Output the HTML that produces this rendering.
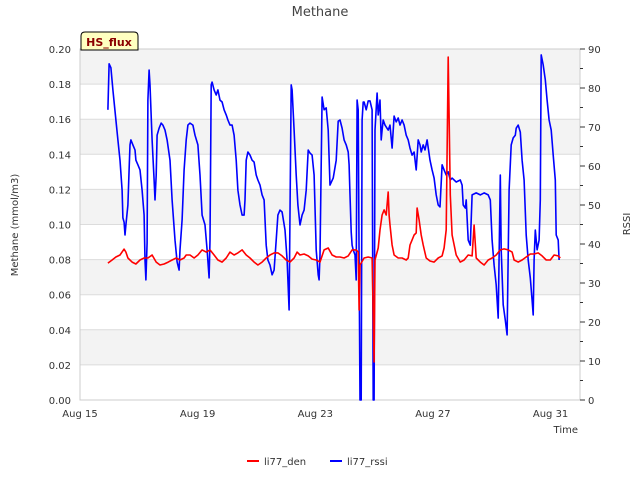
<!DOCTYPE html>
<html><head><meta charset="utf-8"><style>
body{margin:0;background:#fff;font-family:"Liberation Sans",sans-serif}
svg text{font-family:"DejaVu Sans","Liberation Sans",sans-serif}
</style></head><body>
<svg id="chart" width="640" height="480" xmlns="http://www.w3.org/2000/svg"></svg>
<script>
const xTickLabels=["Aug 15","Aug 19","Aug 23","Aug 27","Aug 31"];
const xTickDays=[0,4,8,12,16];
const yLeftTicks=[0,0.02,0.04,0.06,0.08,0.10,0.12,0.14,0.16,0.18,0.20];
const yRightTicks=[0,10,20,30,40,50,60,70,80,90];
const denDays=[0.95,1.09,1.22,1.36,1.50,1.56,1.63,1.77,1.90,2.04,2.18,2.31,2.45,2.59,2.72,2.86,3.0,3.13,3.27,3.40,3.54,3.61,3.74,3.88,4.01,4.15,4.29,4.42,4.56,4.69,4.83,4.97,5.10,5.24,5.37,5.51,5.65,5.78,5.92,6.05,6.19,6.33,6.46,6.60,6.73,6.87,7.01,7.14,7.28,7.38,7.48,7.62,7.76,7.89,8.03,8.16,8.30,8.44,8.57,8.71,8.84,8.98,9.12,9.25,9.39,9.46,9.49,9.52,9.66,9.80,9.93,10.0,10.03,10.14,10.20,10.27,10.34,10.41,10.48,10.51,10.54,10.61,10.68,10.82,10.95,11.09,11.16,11.22,11.29,11.36,11.43,11.46,11.53,11.60,11.67,11.77,11.90,12.04,12.18,12.31,12.38,12.45,12.52,12.59,12.65,12.79,12.93,13.06,13.20,13.33,13.40,13.47,13.61,13.74,13.88,14.01,14.15,14.29,14.42,14.56,14.69,14.76,14.90,15.03,15.17,15.31,15.44,15.58,15.71,15.85,15.99,16.12,16.26,16.33];
const denValues=[0.078,0.0798,0.0815,0.0826,0.086,0.0843,0.0809,0.0786,0.0775,0.0798,0.0809,0.0809,0.0826,0.0786,0.0769,0.0775,0.0786,0.0798,0.0809,0.0798,0.0809,0.0826,0.0826,0.0809,0.0826,0.0855,0.0843,0.0855,0.0826,0.0798,0.0786,0.0809,0.0843,0.0826,0.0838,0.0855,0.0826,0.0809,0.0786,0.0769,0.0786,0.0809,0.0826,0.0838,0.0838,0.0821,0.0798,0.0786,0.0809,0.0843,0.0826,0.0832,0.0821,0.0803,0.0798,0.0786,0.0855,0.0866,0.0826,0.0815,0.0815,0.0809,0.0821,0.0855,0.0855,0.0843,0.0513,0.0769,0.0809,0.0815,0.0809,0.0217,0.0798,0.0866,0.0969,0.1054,0.1083,0.1054,0.1185,0.1054,0.0997,0.0883,0.0826,0.0809,0.0809,0.0798,0.0809,0.0883,0.0912,0.094,0.0952,0.1094,0.1026,0.094,0.0883,0.0809,0.0792,0.0786,0.0809,0.0821,0.0866,0.0969,0.1954,0.1168,0.094,0.0826,0.0786,0.0798,0.0826,0.0821,0.0997,0.0809,0.0786,0.0769,0.0798,0.0809,0.0826,0.0855,0.0861,0.0855,0.0843,0.0798,0.0786,0.0798,0.0815,0.0832,0.0832,0.0838,0.0821,0.0798,0.0798,0.0826,0.0821,0.0809];
const rssiDays=[0.95,0.99,1.05,1.12,1.22,1.29,1.36,1.43,1.46,1.50,1.53,1.56,1.63,1.67,1.70,1.73,1.80,1.87,1.90,1.97,2.04,2.11,2.18,2.21,2.24,2.28,2.31,2.35,2.38,2.45,2.52,2.55,2.59,2.62,2.69,2.76,2.82,2.89,2.96,3.06,3.13,3.23,3.30,3.37,3.40,3.47,3.54,3.61,3.67,3.74,3.84,3.91,4.01,4.08,4.15,4.25,4.32,4.39,4.42,4.46,4.49,4.56,4.63,4.69,4.76,4.83,4.90,4.97,5.03,5.10,5.17,5.24,5.31,5.37,5.44,5.51,5.58,5.61,5.65,5.71,5.78,5.85,5.92,5.99,6.05,6.12,6.19,6.26,6.33,6.39,6.46,6.53,6.60,6.67,6.73,6.80,6.87,6.97,7.04,7.11,7.18,7.21,7.28,7.35,7.41,7.48,7.55,7.62,7.69,7.76,7.82,7.89,7.96,8.03,8.10,8.13,8.16,8.23,8.30,8.37,8.44,8.50,8.61,8.71,8.78,8.84,8.91,8.98,9.05,9.12,9.15,9.18,9.22,9.25,9.29,9.35,9.39,9.42,9.46,9.49,9.52,9.56,9.59,9.63,9.66,9.73,9.80,9.86,9.93,9.97,10.0,10.03,10.10,10.14,10.20,10.24,10.27,10.31,10.37,10.48,10.54,10.61,10.68,10.75,10.82,10.88,10.95,11.02,11.09,11.16,11.22,11.29,11.36,11.43,11.50,11.56,11.60,11.67,11.73,11.80,11.90,11.97,12.04,12.11,12.18,12.24,12.31,12.38,12.45,12.52,12.59,12.65,12.79,12.93,12.99,13.03,13.10,13.13,13.20,13.27,13.33,13.47,13.61,13.74,13.88,13.95,14.01,14.08,14.15,14.22,14.29,14.32,14.39,14.46,14.52,14.59,14.66,14.73,14.80,14.83,14.90,14.97,15.03,15.10,15.17,15.24,15.31,15.37,15.41,15.44,15.48,15.54,15.61,15.65,15.68,15.75,15.82,15.88,15.95,16.02,16.09,16.16,16.19,16.26,16.29];
const rssiValues=[74.4,86.2,85.2,79.5,71.8,66.7,61.5,53.8,46.7,45.6,42.3,44.9,50.0,59.0,65.4,66.7,65.4,64.1,61.5,60.3,59.0,53.8,47.4,35.9,30.8,40.3,76.9,84.6,80.8,66.7,56.4,51.3,57.7,67.9,69.7,71.0,70.5,69.2,66.7,61.5,51.3,41.0,35.4,33.3,38.5,46.2,59.0,66.7,70.5,71.0,70.5,67.9,65.4,57.7,47.4,44.9,38.5,31.3,41.0,80.8,81.5,79.5,78.2,79.5,76.9,76.4,74.4,73.1,71.8,70.5,70.5,67.9,61.5,53.8,50.0,47.4,47.4,51.3,61.5,63.6,62.8,61.5,61.0,57.7,56.4,55.1,52.6,51.3,39.7,35.9,34.6,32.1,33.3,41.0,47.4,48.7,48.2,43.6,35.9,23.1,80.8,79.5,69.2,57.7,50.0,44.9,47.4,48.7,53.8,64.1,63.3,62.8,57.7,38.5,32.1,30.8,37.2,77.7,74.4,74.9,69.2,55.1,56.9,61.5,71.5,71.8,69.7,66.7,65.4,63.6,60.3,52.6,43.1,39.7,38.5,37.2,30.8,76.9,74.4,35.9,0,0,71.8,76.4,76.4,74.4,76.7,76.7,74.4,0,0,69.2,78.7,73.1,76.9,66.7,69.2,71.8,70.5,69.2,70.5,64.6,72.8,71.3,72.3,70.5,71.8,70.5,67.9,66.7,64.6,62.8,63.6,59.0,66.7,65.4,63.6,65.4,64.1,66.7,61.5,59.0,56.9,52.6,50.0,49.5,60.3,59.0,57.7,58.5,56.4,56.9,55.9,56.4,55.1,50.0,49.2,51.3,41.0,39.7,52.6,53.1,52.6,53.1,52.6,51.3,41.0,34.6,29.5,21.0,57.7,38.5,24.4,20.5,16.7,53.8,65.4,67.2,67.9,69.7,70.5,68.7,61.5,56.4,42.3,35.9,31.3,25.6,21.8,35.9,43.6,38.5,41.0,51.3,88.5,85.9,82.1,76.9,71.8,69.2,62.8,56.4,42.3,41.0,35.9];

const L=80,R=580,T=49,B=400;
const x=d=>L+d*(R-L)/17;
const yl=v=>B-v/0.20*(B-T);
const yr=v=>B-v/90*(B-T);
const svg=document.getElementById('chart');
const NS='http://www.w3.org/2000/svg';
function mk(tag,attrs,parent){const e=document.createElementNS(NS,tag);for(const k in attrs)e.setAttribute(k,attrs[k]);(parent||svg).appendChild(e);return e;}
function txt(s,attrs){const e=mk('text',attrs);e.textContent=s;return e;}

// bands
for(let i=0;i<10;i++){
  if(i%2===1){const r=mk('rect',{x:L,y:yl((i+1)*0.02),width:R-L,height:yl(i*0.02)-yl((i+1)*0.02),fill:'#f3f3f3'});
  
  }
}
yLeftTicks.forEach(v=>{const g=mk('line',{x1:L,x2:R,y1:yl(v),y2:yl(v),stroke:'#dcdcdc','stroke-width':1});

});
mk('rect',{x:L,y:T,width:R-L,height:B-T,fill:'none',stroke:'#cccccc'});

// left ticks
yLeftTicks.forEach(v=>{const t=txt(v.toFixed(2),{x:L-9,y:yl(v)+4,'text-anchor':'end','font-size':10,fill:'#333'});

});
// right ticks
yRightTicks.forEach(v=>{mk('line',{x1:R,x2:R+5,y1:yr(v),y2:yr(v),stroke:'#333'});
const t=txt(String(v),{x:R+8,y:yr(v)+4,'font-size':10,fill:'#333'});


if(v<90)mk('line',{x1:R,x2:R+3,y1:yr(v+5),y2:yr(v+5),stroke:'#333'});});
// x ticks
xTickDays.forEach((d,i)=>{const t=txt(xTickLabels[i],{x:x(d),y:B+17,'text-anchor':'middle','font-size':10,fill:'#333'});

});

function line(days,vals,ys,color,name){
  const p=days.map((d,i)=>(i?'L':'M')+x(d).toFixed(1)+','+ys(vals[i]).toFixed(1)).join('');
  const e=mk('path',{d:p,fill:'none',stroke:color,'stroke-width':1.6,'stroke-linejoin':'round'});
  
  
}
line(rssiDays,rssiValues,yr,'#0000ff','li77-rssi-line');
line(denDays,denValues,yl,'#ff0000','li77-den-line');

// labels
const t1=txt('Methane',{x:320,y:16,'text-anchor':'middle','font-size':13,fill:'#444'});

const t2=txt('Methane (mmol/m3)',{x:0,y:0,'text-anchor':'middle','font-size':10,fill:'#333',transform:'translate(18,225) rotate(-90)'});

const t3=txt('RSSI',{x:0,y:0,'text-anchor':'middle','font-size':10,fill:'#333',transform:'translate(630,224) rotate(-90)'});

const t4=txt('Time',{x:578,y:433,'text-anchor':'end','font-size':10,fill:'#333'});


// HS_flux box
const bx=mk('path',{d:'M81,50 L81,36 Q81,32 85,32 L134,32 Q138,32 138,36 L138,50 Z',fill:'#ffffc0',stroke:'#000','stroke-width':1});

const t5=txt('HS_flux',{x:109,y:46,'text-anchor':'middle','font-size':11,'font-weight':'bold',fill:'#8b0000'});


// legend
const lg=mk('g',{});

mk('line',{x1:247,x2:259,y1:461,y2:461,stroke:'#ff0000','stroke-width':2},lg);
const l1=mk('text',{x:264,y:465,'font-size':10,fill:'#333'},lg);l1.textContent='li77_den';

mk('line',{x1:330,x2:342,y1:461,y2:461,stroke:'#0000ff','stroke-width':2},lg);
const l2=mk('text',{x:347,y:465,'font-size':10,fill:'#333'},lg);l2.textContent='li77_rssi';

</script>
</body></html>
